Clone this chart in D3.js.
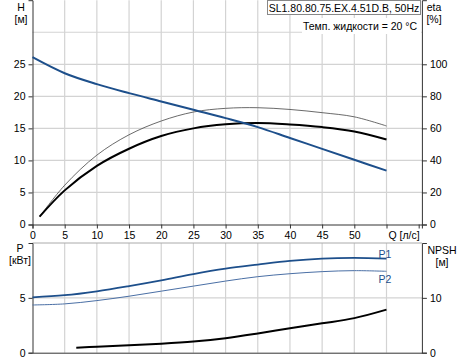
<!DOCTYPE html>
<html>
<head>
<meta charset="utf-8">
<script src="https://cdn.jsdelivr.net/npm/d3@7"></script>
<style>
  body { margin: 0; background: #fff; }
  svg { display: block; font-family: "Liberation Sans", Arial, sans-serif; }
</style>
</head>
<body>
<div id="chart"></div>
<script>
// Q axis values [л/с]
var qH = [0, 5, 10, 15, 20, 25, 30, 35, 40, 45, 50, 55];
var headH = [26.1, 23.6, 21.9, 20.5, 19.2, 17.9, 16.6, 15.2, 13.5, 11.8, 10.1, 8.4];

var qEta = [1.1, 5, 10, 15, 20, 25, 30, 35, 40, 45, 50, 55];
var etaTotal = [4.9, 21.3, 36.6, 47.3, 55.2, 60, 62.5, 63.3, 62.4, 60.8, 58.1, 53.1];
var etaPump = [4.9, 24.5, 43.3, 56, 64.6, 70.2, 72.5, 72.9, 71.8, 69.8, 67.2, 61.5];

var qP = [0, 5, 10, 15, 20, 25, 30, 35, 40, 45, 50, 55];
var powerP1 = [5.05, 5.24, 5.6, 6.07, 6.59, 7.17, 7.66, 8.03, 8.37, 8.58, 8.64, 8.58];
var powerP2 = [4.35, 4.45, 4.75, 5.15, 5.61, 6.07, 6.53, 6.93, 7.2, 7.39, 7.48, 7.42];

var qNpsh = [6.8, 10, 15, 20, 25, 30, 35, 40, 45, 50, 55];
var npsh = [0.92, 1.1, 1.35, 1.65, 2.05, 2.65, 3.5, 4.45, 5.35, 6.3, 7.85];

var qTicks = [0, 5, 10, 15, 20, 25, 30, 35, 40, 45, 50];
var hTicks = [0, 5, 10, 15, 20, 25];
var etaTicks = [0, 20, 40, 60, 80, 100];

var title = "SL1.80.80.75.EX.4.51D.B, 50Hz";
var tempNote = "Темп. жидкости = 20 °C";

var width = 461, height = 361;
var blue = "#1d4f8b", grid = "#d3d3d3", axisCol = "#333";
var fontSize = 10.5;

var svg = d3.select("#chart").append("svg")
  .attr("width", width).attr("height", height)
  .attr("font-size", fontSize);

var x = d3.scaleLinear().domain([0, 60.5]).range([32.5, 421.9]);
var yH = d3.scaleLinear().domain([0, 35]).range([224.5, 0.2]);
var yEta = d3.scaleLinear().domain([0, 140]).range([224.5, 0.2]);
var yP = d3.scaleLinear().domain([0, 10]).range([352.7, 243]);
var yN = d3.scaleLinear().domain([0, 20]).range([352.7, 243]);

var gridQ = d3.range(5, 60, 5);

// top grid
var topGrid = svg.append("g");
topGrid.selectAll("line.v").data(gridQ).join("line")
  .attr("x1", d => x(d)).attr("x2", d => x(d))
  .attr("y1", yH(35)).attr("y2", yH(0))
  .attr("stroke", grid).attr("stroke-width", 1.2);
topGrid.selectAll("line.h").data([5, 10, 15, 20, 25, 30]).join("line")
  .attr("x1", x(0)).attr("x2", x(60.5))
  .attr("y1", d => yH(d)).attr("y2", d => yH(d))
  .attr("stroke", grid).attr("stroke-width", 1.2);

// bottom grid
var botGrid = svg.append("g");
botGrid.selectAll("line.v").data(gridQ).join("line")
  .attr("x1", d => x(d)).attr("x2", d => x(d))
  .attr("y1", yP(10)).attr("y2", yP(0))
  .attr("stroke", grid).attr("stroke-width", 1.2);
botGrid.append("line")
  .attr("x1", x(0)).attr("x2", x(60.5))
  .attr("y1", yP(5)).attr("y2", yP(5))
  .attr("stroke", grid).attr("stroke-width", 1.2);
botGrid.append("line")
  .attr("x1", x(0)).attr("x2", x(60.5))
  .attr("y1", yP(10)).attr("y2", yP(10))
  .attr("stroke", "#aaa").attr("stroke-width", 1);

// axes
function styleAxis(g) {
  g.select(".domain").attr("stroke", axisCol);
  g.selectAll(".tick line").attr("stroke", axisCol);
  g.selectAll(".tick text").attr("fill", "#000").attr("font-size", fontSize)
    .attr("font-family", "Liberation Sans, Arial, sans-serif");
}

svg.append("g").attr("transform", `translate(0,${yH(0)})`)
  .call(d3.axisBottom(x).tickValues(qTicks.concat([55, 60])).tickSizeOuter(0).tickSize(4).tickPadding(3)
    .tickFormat(d => d >= 55 ? "" : d))
  .call(styleAxis);

svg.append("g").attr("transform", `translate(${x(0)},0)`)
  .call(d3.axisLeft(yH).tickValues(hTicks).tickSizeOuter(0).tickSize(4).tickPadding(3))
  .call(styleAxis);

svg.append("g").attr("transform", `translate(${x(60.5)},0)`)
  .call(d3.axisRight(yEta).tickValues(etaTicks).tickSizeOuter(0).tickSize(5).tickPadding(3))
  .call(styleAxis);

svg.append("g").attr("transform", `translate(0,${yP(0)})`)
  .call(d3.axisBottom(x).tickValues([]).tickSizeOuter(0))
  .call(styleAxis);

svg.append("g").attr("transform", `translate(${x(0)},0)`)
  .call(d3.axisLeft(yP).tickValues([0, 5]).tickSizeOuter(0).tickSize(4).tickPadding(3))
  .call(styleAxis);

svg.append("g").attr("transform", `translate(${x(60.5)},0)`)
  .call(d3.axisRight(yN).tickValues([0, 10]).tickSizeOuter(0).tickSize(5).tickPadding(3))
  .call(styleAxis);

// curves
var curve = d3.curveCatmullRom.alpha(0.5);
function drawLine(qs, vs, ys, color, w) {
  var line = d3.line().x(d => x(d[0])).y(d => ys(d[1])).curve(curve);
  svg.append("path").datum(d3.zip(qs, vs))
    .attr("d", line).attr("fill", "none")
    .attr("stroke", color).attr("stroke-width", w);
}

drawLine(qEta, etaPump, yEta, "#444", 0.8);
drawLine(qEta, etaTotal, yEta, "#000", 2);
drawLine(qH, headH, yH, blue, 2);

drawLine(qP, powerP2, yP, "#4a6fa5", 1);
drawLine(qP, powerP1, yP, blue, 1.8);
drawLine(qNpsh, npsh, yN, "#000", 2);

// labels
function label(txt, xx, yy, anchor, color) {
  svg.append("text").attr("x", xx).attr("y", yy)
    .attr("text-anchor", anchor || "middle")
    .attr("fill", color || "#000").text(txt);
}

label("H", 21, 11);
label("[м]", 21, 23);
label("eta", 434, 11);
label("[%]", 434, 23);
label("P", 20, 252);
label("[кВт]", 20, 264);
label("NPSH", 442, 254);
label("[м]", 442, 266);
label("Q [л/с]", 404, 239);

label("P1", 385, 258, "middle", blue);
label("P2", 385, 283, "middle", blue);

// title boxes
svg.append("rect").attr("x", 267.5).attr("y", 0.5).attr("width", 153).attr("height", 14)
  .attr("fill", "#fff").attr("stroke", "#888");
label(title, 344, 11.5);
svg.append("rect").attr("x", 302).attr("y", 18).attr("width", 119).attr("height", 16)
  .attr("fill", "#fff");
label(tempNote, 360, 30);
</script>
</body>
</html>
